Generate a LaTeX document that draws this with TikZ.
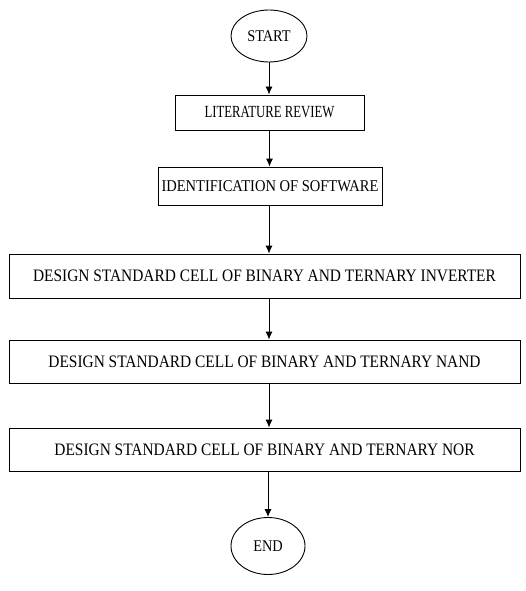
\documentclass[tikz,border=0pt]{standalone}
\usepackage{fontspec}
\setmainfont[FakeStretch=0.88]{Liberation Serif}
\newfontfamily\narrowserif[FakeStretch=0.75]{Liberation Serif}
\usetikzlibrary{shapes.geometric,arrows.meta}
\begin{document}
\begin{tikzpicture}[x=1pt,y=-1pt,font=\fontsize{17.5}{19}\selectfont,
  stepbox/.style={draw,line width=0.9pt,inner sep=0pt},
  term/.style={draw,ellipse,line width=0.9pt,inner sep=0pt,font=\fontsize{16.3}{18}\selectfont},
  flow/.style={-{Latex[length=8pt,width=7pt]},line width=0.9pt}]
  \useasboundingbox (0,0) rectangle (526,591);
  \node [term,minimum width=76pt,minimum height=52pt] (start) at (269,36) {START};
  \node [stepbox,minimum width=189pt,minimum height=35pt,font=\narrowserif\fontsize{17}{19}\selectfont] (review) at (269.5,112.5) {LITERATURE REVIEW};
  \node [stepbox,minimum width=224pt,minimum height=38pt,font=\fontsize{16.5}{18}\selectfont] (software) at (270,186) {IDENTIFICATION OF SOFTWARE};
  \node [stepbox,minimum width=511pt,minimum height=44pt] (inverter) at (264.5,276) {DESIGN STANDARD CELL OF BINARY AND TERNARY INVERTER};
  \node [stepbox,minimum width=511pt,minimum height=43pt] (nand) at (264.5,361.5) {DESIGN STANDARD CELL OF BINARY AND TERNARY NAND};
  \node [stepbox,minimum width=511pt,minimum height=43pt] (nor) at (264.5,449.5) {DESIGN STANDARD CELL OF BINARY AND TERNARY NOR};
  \node [term,minimum width=74pt,minimum height=57pt] (end) at (268,546) {END};
  % connectors
  \draw [flow] (start) -- (start |- review.north);
  \draw [flow] (review) -- (review |- software.north);
  \draw [flow] (software.south -| start) -- (start |- inverter.north);
  \draw [flow] (inverter.south -| start) -- (start |- nand.north);
  \draw [flow] (nand.south -| start) -- (start |- nor.north);
  \draw [flow] (nor.south -| end) -- (end);
\end{tikzpicture}
\end{document}
